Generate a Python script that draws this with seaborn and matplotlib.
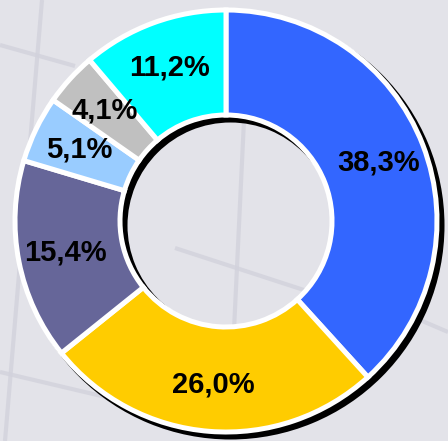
import matplotlib
matplotlib.use("Agg")
import matplotlib.pyplot as plt
import seaborn as sns

# Data
shares = [38.3, 26.0, 15.4, 5.1, 4.1, 11.2]
labels = ["38,3%", "26,0%", "15,4%", "5,1%", "4,1%", "11,2%"]
colors = ["#3366FF", "#FFCC00", "#666699", "#99CCFF", "#C0C0C0", "#00FFFF"]

sns.set_theme(style="white")
plt.rcParams["font.family"] = ["Liberation Sans", "DejaVu Sans"]

W, H = 448, 441
fig = plt.figure(figsize=(W / 100, H / 100), dpi=100)
bg = "#e3e3e9"
fig.patch.set_facecolor(bg)
ax = fig.add_axes([0, 0, 1, 1])
ax.set_facecolor(bg)

# faint background lines (decorative)
line_kw = dict(color="#d2d2dc", lw=3, alpha=0.8, zorder=0, solid_capstyle="butt")
for (x0, y0), (x1, y1) in [((42, 0), (5, 441)), ((0, 45), (75, 66)),
                            ((0, 372), (110, 398)), ((244, 120), (234, 330)),
                            ((175, 248), (310, 292)), ((420, 320), (448, 332))]:
    ax.plot([x0, x1], [H - y0, H - y1], **line_kw)

cx, cy = 226, H - 221
R = 211
width = 105

# drop shadow
ax.pie([1], colors=["black"], radius=R + 3, center=(cx + 4.5, cy - 4.5),
       startangle=90, wedgeprops=dict(width=width + 6, linewidth=0),
       frame=True)

palette = sns.color_palette(colors)
wedges, texts = ax.pie(
    shares, colors=palette, startangle=90, counterclock=False,
    radius=R, center=(cx, cy), labels=labels, labeldistance=0.775,
    wedgeprops=dict(width=width, edgecolor="white", linewidth=3.6),
    textprops=dict(fontsize=21, fontweight="bold", color="black"),
    frame=True,
)
for t in texts:
    t.set_ha("center")
    t.set_va("center")

ax.set_xlim(0, W)
ax.set_ylim(0, H)
ax.set_aspect("equal")
ax.axis("off")

fig.savefig("out.png", dpi=100, facecolor=bg)
